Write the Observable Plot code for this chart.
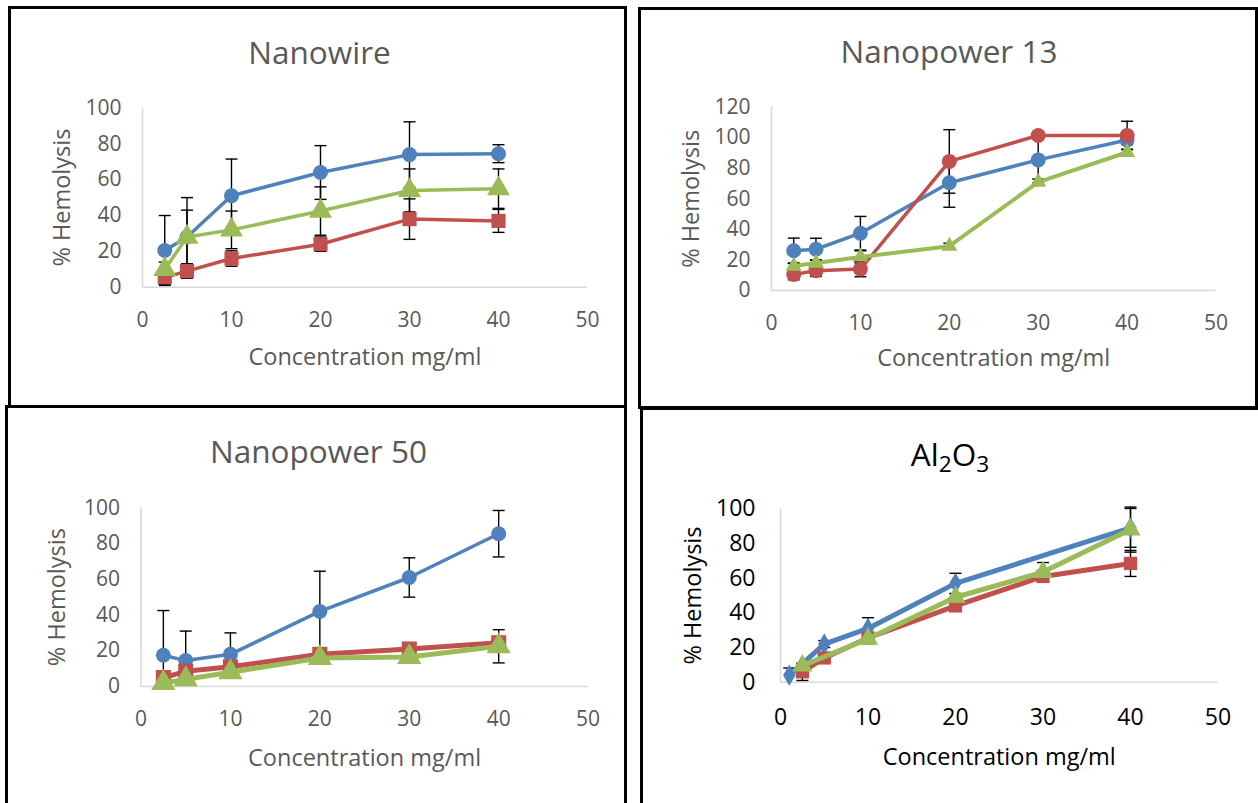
<!DOCTYPE html>
<html><head><meta charset="utf-8">
<script src="https://cdn.jsdelivr.net/npm/d3@7"></script>
<script src="https://cdn.jsdelivr.net/npm/@observablehq/plot@0.6"></script>
<style>
body{margin:0;background:#fff;}
#wrap{position:relative;width:1258px;height:803px;overflow:hidden;background:#fff;font-family:"Open Sans",sans-serif;}
.box{position:absolute;box-sizing:border-box;border:3px solid #000;pointer-events:none;z-index:2;}
.ttl{position:absolute;font-size:31.5px;line-height:31.5px;color:#595959;white-space:nowrap;transform:translateX(-50%);}
.ttl sub{font-size:0.72em;vertical-align:-0.25em;line-height:0;}
</style></head><body><div id="wrap"></div>
<script>
// ---------- data ----------
const conc = [2.5, 5, 10, 20, 30, 40];
const xTicks = [0, 10, 20, 30, 40, 50];
const yTicks100 = [0, 20, 40, 60, 80, 100];
const yTicks120 = [0, 20, 40, 60, 80, 100, 120];
const xLabel = "Concentration mg/ml";
const yLabel = "% Hemolysis";

// Nanowire
const nwBlue = [20.5, 28, 51, 64, 74, 74.5];
const nwBlueErr = [19.5, 22, 20.5, 15, 18.3, 5];
const nwRed = [5.5, 9, 16, 24, 38, 37];
const nwRedErr = [4, 4, 4.3, 4, 11.3, 6.4];
const nwGreen = [10, 28, 32, 42.5, 54, 55];
const nwGreenErr = [4, 15, 10.5, 13.5, 12, 11];
// Nanopower 13
const np13Blue = [26, 27, 37.5, 70.5, 85.5, 98.5];
const np13BlueErr = [8.3, 7.2, 11, 16, 15, 3];
const np13Red = [10.5, 13, 14, 84.5, 101.5, 101.5];
const np13RedErr = [3.5, 3.8, 5, 20.8, 2, 9.3];
const np13Green = [16, 18, 22, 29, 71, 90.5];
const np13GreenErr = [2, 2, 4, 2, 2, 2];
// Nanopower 50
const np50Blue = [17.5, 14.5, 18, 42, 61, 85.5];
const np50BlueErr = [25, 16.5, 12, 22.5, 11, 13];
const np50Red = [5, 8.5, 11, 18, 21, 24.5];
const np50RedErr = [1, 1, 1, 1, 1, 2];
const np50Green = [2, 4, 8, 16, 16.5, 22.5];
const np50GreenErr = [1, 1, 1, 1, 1, 9.3];
// Al2O3
const alBlueConc = [1, 5, 10, 20, 40];
const alBlue = [4, 22, 31, 57, 89];
const alBlueErr = [4.2, 2, 6.2, 5.8, 11.2];
const alRedConc = [2.5, 5, 10, 20, 30, 40];
const alRed = [6, 14, 25.5, 44, 61, 68.5];
const alRedErr = [5, 2, 2, 2, 2, 7.5];
const alGreenConc = [2.5, 10, 20, 30, 40];
const alGreen = [9.5, 25, 49, 63.5, 88];
const alGreenErr = [1, 1, 2, 5.5, 13];

const BLUE = "#4F81BD", RED = "#C0504D", GREEN = "#9BBB59";

// ---------- helpers ----------
const rows = (xs, ys, es) => xs.map((x, i) => ({x, y: ys[i], e: es[i]}));
const capSymbol = {draw(ctx, size) { const r = Math.sqrt(size / Math.PI); ctx.moveTo(-r, 0); ctx.lineTo(r, 0); }};

const wrap = document.getElementById("wrap");

function addBox(l, t, w, h) {
  const d = document.createElement("div");
  d.className = "box";
  Object.assign(d.style, {left: l + "px", top: t + "px", width: w + "px", height: h + "px"});
  wrap.appendChild(d);
}
function addTitle(html, cx, baseline, color) {
  const d = document.createElement("div");
  d.className = "ttl";
  d.innerHTML = html;
  Object.assign(d.style, {left: cx + "px", top: (baseline - 0.888 * 31.5) + "px", color});
  wrap.appendChild(d);
}

function panel(c) {
  const marginLeft = c.x0 - c.left;
  const marginRight = c.left + c.width - c.x50;
  const marginTop = c.yTop - c.top;
  const marginBottom = c.top + c.height - c.yBase;
  const marks = [
    Plot.ruleY([0], {x1: 0, x2: 50, stroke: "#D9D9D9", strokeWidth: 1.5}),
    Plot.ruleX([0], {y1: 0, y2: c.yMax, stroke: "#D9D9D9", strokeWidth: 1.5}),
    Plot.axisX(xTicks, {tickSize: 0, tickPadding: c.xPad, fill: c.tickColor, fontSize: c.tickFont, label: null}),
    Plot.axisY(c.yTicks, {tickSize: 0, tickPadding: c.yPad, fill: c.tickColor, fontSize: c.tickFont, label: null}),
    Plot.text([xLabel], {text: d => d, frameAnchor: "bottom", lineAnchor: "middle", textAnchor: "middle", dy: c.xLabelDy, fill: c.labelColor, fontSize: 23.5}),
    Plot.text([yLabel], {text: d => d, frameAnchor: "left", lineAnchor: "middle", textAnchor: "middle", dx: c.yLabelDx, rotate: -90, fill: c.labelColor, fontSize: 23.5})
  ];
  for (const s of c.series) {
    const lows = s.data.filter(d => d.y - d.e >= 0);
    marks.push(
      Plot.ruleX(s.data, {x: "x", y1: d => Math.max(0, d.y - d.e), y2: d => d.y + d.e, stroke: "#000", strokeWidth: 1.4}),
      Plot.dot(s.data, {x: "x", y: d => d.y + d.e, symbol: capSymbol, r: 6, stroke: "#000", strokeWidth: 1.4, fill: "none"}),
      Plot.dot(lows, {x: "x", y: d => d.y - d.e, symbol: capSymbol, r: 6, stroke: "#000", strokeWidth: 1.4, fill: "none"})
    );
  }
  for (const s of c.series) {
    marks.push(
      Plot.line(s.data, {x: "x", y: "y", stroke: s.color, strokeWidth: s.sw, strokeLinejoin: "round"}),
      Plot.dot(s.data, {x: "x", y: "y", symbol: s.symbol, r: s.r, fill: s.color, stroke: "none"})
    );
  }
  const svg = Plot.plot({
    width: c.width, height: c.height,
    marginLeft, marginRight, marginTop, marginBottom,
    x: {domain: [0, 50]},
    y: {domain: [0, c.yMax]},
    style: {fontFamily: "Open Sans, sans-serif", fontSize: "20px", background: "transparent", overflow: "visible"},
    marks
  });
  Object.assign(svg.style, {position: "absolute", left: c.left + "px", top: c.top + "px"});
  wrap.appendChild(svg);
}

const GRAY = "#595959";

// Nanowire
panel({left: 11, top: 70, width: 613, height: 334, x0: 142, x50: 587, yBase: 286.7, yTop: 107.5, yMax: 100,
  yTicks: yTicks100, xPad: 25, yPad: 21, tickColor: GRAY, labelColor: GRAY, tickFont: 21, xLabelDy: 70, yLabelDx: -80,
  series: [
    {data: rows(conc, nwBlue, nwBlueErr), color: BLUE, symbol: "circle", r: 7.5, sw: 3.5},
    {data: rows(conc, nwRed, nwRedErr), color: RED, symbol: "square", r: 8, sw: 3.5},
    {data: rows(conc, nwGreen, nwGreenErr), color: GREEN, symbol: "triangle", r: 8.5, sw: 3.5}
  ]});
// Nanopower 13
panel({left: 641, top: 70, width: 613, height: 336, x0: 771, x50: 1215.5, yBase: 290, yTop: 106.7, yMax: 120,
  yTicks: yTicks120, xPad: 25, yPad: 21, tickColor: GRAY, labelColor: GRAY, tickFont: 21, xLabelDy: 68, yLabelDx: -80,
  series: [
    {data: rows(conc, np13Blue, np13BlueErr), color: BLUE, symbol: "circle", r: 7.5, sw: 3.5},
    {data: rows(conc, np13Red, np13RedErr), color: RED, symbol: "circle", r: 7.5, sw: 3.5},
    {data: rows(conc, np13Green, np13GreenErr), color: GREEN, symbol: "triangle", r: 6, sw: 4}
  ]});
// Nanopower 50
panel({left: 8, top: 470, width: 617, height: 333, x0: 140.5, x50: 587.6, yBase: 686, yTop: 507.3, yMax: 100,
  yTicks: yTicks100, xPad: 25, yPad: 21, tickColor: GRAY, labelColor: GRAY, tickFont: 21, xLabelDy: 72, yLabelDx: -84,
  series: [
    {data: rows(conc, np50Blue, np50BlueErr), color: BLUE, symbol: "circle", r: 7.5, sw: 3.5},
    {data: rows(conc, np50Red, np50RedErr), color: RED, symbol: "square", r: 8.5, sw: 5},
    {data: rows(conc, np50Green, np50GreenErr), color: GREEN, symbol: "triangle", r: 9, sw: 5}
  ]});
// Al2O3
panel({left: 643, top: 470, width: 615, height: 333, x0: 780, x50: 1217.5, yBase: 681.7, yTop: 508.3, yMax: 100,
  yTicks: yTicks100, xPad: 26, yPad: 25, tickColor: "#000", labelColor: "#000", tickFont: 23, xLabelDy: 75, yLabelDx: -87,
  series: [
    {data: rows(alBlueConc, alBlue, alBlueErr), color: BLUE, symbol: "diamond", r: 6.5, sw: 5},
    {data: rows(alRedConc, alRed, alRedErr), color: RED, symbol: "square", r: 7.5, sw: 5},
    {data: rows(alGreenConc, alGreen, alGreenErr), color: GREEN, symbol: "triangle", r: 7.5, sw: 5}
  ]});

// titles
addTitle("Nanowire", 319.5, 64.3, GRAY);
addTitle("Nanopower 13", 949, 63, GRAY);
addTitle("Nanopower 50", 318.5, 463, GRAY);
addTitle("Al<sub>2</sub>O<sub>3</sub>", 950, 466, "#000");

// panel frames
addBox(8, 6, 619, 402);
addBox(638, 7, 620, 402);
addBox(5, 405, 622, 410);
addBox(640, 406.5, 630, 410);
</script></body></html>
